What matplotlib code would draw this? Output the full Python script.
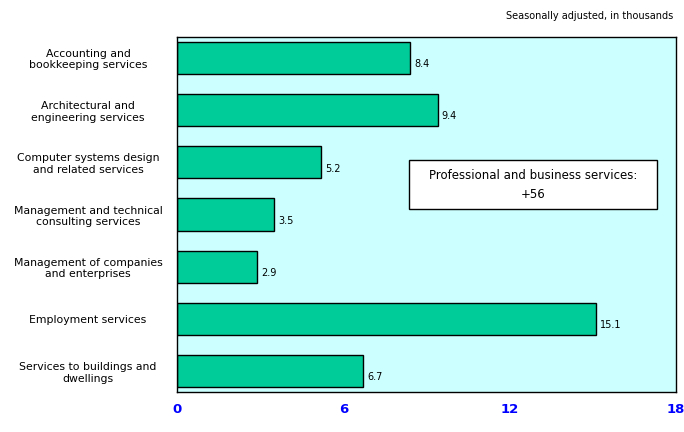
import matplotlib.pyplot as plt
from matplotlib.patches import Rectangle

categories = ['Accounting and\nbookkeeping services',
              'Architectural and\nengineering services',
              'Computer systems design\nand related services',
              'Management and technical\nconsulting services',
              'Management of companies\nand enterprises',
              'Employment services',
              'Services to buildings and\ndwellings']
values = [8.4, 9.4, 5.2, 3.5, 2.9, 15.1, 6.7]
xticks = [0, 6, 12, 18]

fig = plt.figure(figsize=(6.84, 4.32), dpi=100)
ax = fig.add_axes([177 / 684, 40 / 432, 499 / 684, 355 / 432])
ax.set_facecolor('#CCFFFF')

ypos = list(range(len(categories)))
ax.barh(ypos, values, height=0.62, color='#00CC99', edgecolor='black', linewidth=1)
for y, v in zip(ypos, values):
    ax.text(v + 0.15, y + 0.12, f'{v}', va='center', ha='left', fontsize=7)

ax.set_ylim(6.4, -0.4)
ax.set_xlim(0, 18)
ax.set_yticks(ypos)
ax.set_yticklabels(categories, fontsize=7.8, ha='center')
ax.tick_params(axis='y', length=0, pad=64)
ax.set_xticks(xticks)
ax.set_xticklabels([str(t) for t in xticks], fontsize=9.5, fontweight='bold', color='#0000FF')
ax.tick_params(axis='x', length=0, pad=8)
for s in ax.spines.values():
    s.set_linewidth(1)

ax.add_patch(Rectangle((0.465, 0.515), 0.497, 0.138, transform=ax.transAxes,
                       facecolor='white', edgecolor='black', linewidth=1))
ax.text(0.713, 0.584, 'Professional and business services:\n+56', transform=ax.transAxes,
        ha='center', va='center', fontsize=8.5, linespacing=1.6)

fig.text(0.985, 0.962, 'Seasonally adjusted, in thousands', ha='right', va='center', fontsize=7)

fig.savefig('out.png', dpi=100)
